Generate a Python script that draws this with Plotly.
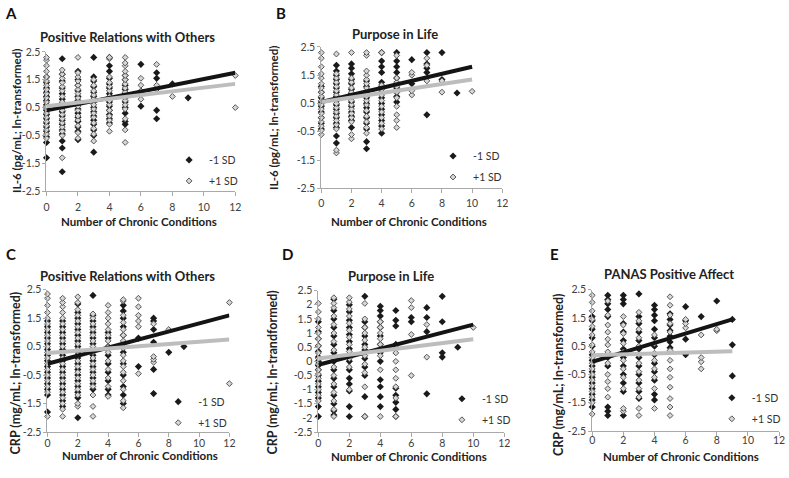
import plotly.graph_objects as go

# ---------------- data ----------------
# Each list index = number of chronic conditions (0..12); values = biomarker (ln-transformed)
A_NEG = [
    [-1.3, -0.75, -0.55, -0.35, -0.2, -0.05, 0.1, 0.25, 0.4, 0.5, 0.6, 0.75, 0.9, 1.05, 1.2, 1.4, 1.6],
    [-1.8, -0.95, -0.7, -0.45, -0.3, -0.1, 0.05, 0.2, 0.35, 0.5, 0.65, 0.8, 1.0, 1.2, 1.45, 1.7, 2.25],
    [-0.65, -0.35, -0.2, 0.0, 0.15, 0.3, 0.45, 0.6, 0.75, 0.9, 1.1, 1.3, 1.5, 1.8],
    [-1.1, -0.5, -0.3, -0.1, 0.05, 0.2, 0.35, 0.5, 0.7, 0.9, 1.05, 1.25, 1.45, 1.6, 2.3],
    [-0.05, 0.1, 0.25, 0.4, 0.55, 0.7, 0.85, 1.0, 1.2, 1.35, 1.55, 1.8, 2.0, 2.3],
    [-0.1, 0.0, 0.3, 0.5, 0.7, 0.85, 1.0, 1.15, 1.3, 1.5, 1.65],
    [0.55, 1.0, 2.05],
    [0.1, 0.4, 1.55, 1.75],
    [1.35],
    [0.85],
    [], [], [],
]
A_POS = [
    [-0.6, -0.45, -0.3, -0.15, 0.0, 0.15, 0.3, 0.45, 0.55, 0.7, 0.85, 1.0, 1.15, 1.3, 1.45, 1.6, 1.8, 2.0, 2.2, 2.3],
    [-1.3, -0.5, -0.35, -0.2, -0.05, 0.1, 0.25, 0.4, 0.55, 0.7, 0.9, 1.1, 1.25, 1.4, 1.55, 1.7, 1.85],
    [-0.6, -0.4, -0.15, 0.05, 0.2, 0.4, 0.55, 0.7, 0.85, 1.0, 1.15, 1.3, 1.45, 1.6, 1.75, 2.3],
    [-0.7, -0.45, -0.25, -0.05, 0.15, 0.3, 0.45, 0.6, 0.8, 0.95, 1.1, 1.3, 1.5],
    [-0.35, -0.1, 0.05, 0.2, 0.4, 0.6, 0.75, 0.9, 1.1, 1.25, 1.4, 1.6, 2.25, 2.3],
    [-0.75, -0.3, 0.1, 0.45, 0.6, 0.75, 0.9, 1.05, 1.2, 1.35, 1.5, 1.65, 1.8, 2.0, 2.1, 2.3],
    [0.8, 1.1, 1.3, 1.55],
    [1.15, 1.3, 2.05],
    [0.9],
    [], [], [],
    [0.5, 1.65],
]
B_NEG = [
    [-0.4, -0.2, 0.0, 0.2, 0.4, 0.55, 0.7, 0.9, 1.1],
    [-0.9, -0.65, -0.35, -0.2, 0.0, 0.15, 0.3, 0.45, 0.6, 0.75, 0.9, 1.05, 1.2, 1.35, 1.5, 1.65, 1.85],
    [-0.35, -0.1, 0.05, 0.2, 0.4, 0.55, 0.7, 0.85, 1.0, 1.2, 1.35, 1.55, 1.75, 1.9],
    [-1.1, -0.85, -0.4, -0.2, 0.0, 0.2, 0.35, 0.5, 0.7, 0.9, 1.1, 1.3],
    [-0.55, -0.3, -0.1, 0.1, 0.3, 0.5, 0.7, 0.9, 1.1, 1.25, 1.6, 1.8, 2.0, 2.3],
    [0.55, 0.75, 0.9, 1.05, 1.2, 1.4, 1.6, 1.8, 2.0, 2.3],
    [1.2, 2.05],
    [0.1, 1.6, 1.75, 1.9, 2.3],
    [1.35, 2.3],
    [0.87],
    [], [], [],
]
B_POS = [
    [-0.6, -0.45, -0.3, -0.15, 0.0, 0.15, 0.3, 0.45, 0.6, 0.75, 0.9, 1.05, 1.2, 1.4, 1.55, 1.8, 2.1, 2.3],
    [-1.25, -1.15, -0.4, -0.25, -0.1, 0.05, 0.2, 0.35, 0.5, 0.65, 0.8, 0.95, 1.1, 1.25, 1.4, 1.55, 2.25],
    [-0.75, -0.6, -0.15, 0.0, 0.15, 0.3, 0.45, 0.6, 0.75, 0.9, 1.05, 1.25, 1.4, 2.3],
    [-0.55, -0.35, -0.15, 0.05, 0.25, 0.45, 0.6, 0.75, 0.9, 1.05, 1.2, 1.35, 1.5, 1.65, 2.2, 2.3],
    [-0.4, -0.2, 0.0, 0.2, 0.4, 0.6, 0.8, 1.0, 1.15, 2.3],
    [-0.35, -0.1, 0.1, 0.4, 0.7, 0.9, 1.1, 1.25, 1.4, 2.2],
    [0.8, 0.95, 1.5, 1.6],
    [1.3, 1.85, 2.1],
    [0.9, 1.3],
    [],
    [0.93],
    [], [],
]
C_NEG = [
    [-1.8, -1.2, -1.0, -0.8, -0.6, -0.4, -0.2, 0.0, 0.2, 0.4, 0.6, 0.8, 1.0, 1.2, 1.4],
    [-1.6, -1.4, -1.2, -1.0, -0.8, -0.6, -0.4, -0.2, 0.0, 0.2, 0.4, 0.6, 0.8, 1.0, 1.2, 1.4],
    [-2.0, -1.3, -1.1, -0.9, -0.7, -0.5, -0.3, -0.1, 0.1, 0.3, 0.5, 0.7, 0.9, 1.1, 1.3, 1.5, 1.7, 2.0],
    [-1.0, -0.8, -0.6, -0.4, -0.2, 0.0, 0.2, 0.4, 0.6, 0.8, 1.0, 1.2, 1.4, 1.6, 2.3],
    [-1.2, -1.0, -0.7, -0.4, -0.1, 0.2, 0.5, 0.8, 1.0],
    [-1.5, -1.2, -0.9, -0.5, -0.1, 0.3, 0.6, 0.9, 1.2, 1.5, 1.75, 1.95],
    [-0.2, 0.8],
    [-1.15, -0.3, 0.65, 1.1, 1.4, 1.5],
    [0.3],
    [0.5],
    [], [], [],
]
C_POS = [
    [-1.95, -1.1, -0.9, -0.7, -0.5, -0.3, -0.1, 0.1, 0.3, 0.5, 0.7, 0.9, 1.1, 1.3, 1.5, 1.7, 1.95, 2.2, 2.35],
    [-1.95, -1.7, -1.5, -1.3, -1.1, -0.9, -0.7, -0.5, -0.3, -0.1, 0.1, 0.3, 0.5, 0.7, 0.9, 1.1, 1.3, 1.5, 1.7, 1.9, 2.05, 2.2],
    [-1.6, -1.5, -1.2, -1.0, -0.8, -0.6, -0.4, -0.2, 0.0, 0.2, 0.4, 0.6, 0.8, 1.0, 1.2, 1.4, 1.6, 1.8, 2.05, 2.25],
    [-1.95, -1.6, -1.2, -0.9, -0.7, -0.5, -0.3, -0.1, 0.1, 0.3, 0.5, 0.7, 0.9, 1.1, 1.3, 1.5, 1.65],
    [-1.25, -0.9, -0.6, -0.3, 0.0, 0.3, 0.5, 0.7, 0.9, 1.1, 1.3, 1.5, 1.7, 1.95],
    [-1.65, -1.4, -1.0, -0.7, -0.4, -0.2, 0.0, 0.2, 0.45, 0.7, 0.9, 1.1, 1.35, 1.6, 2.1, 2.15],
    [-0.45, 1.2, 1.4, 1.6, 1.9, 2.2],
    [-0.05, 0.05, 0.15, 1.3],
    [1.1],
    [], [], [],
    [-0.8, 2.05],
]
D_NEG = [
    [-1.95, -1.6, -1.3, -1.1, -0.9, -0.7, -0.5, -0.3, -0.15, 0.0, 0.15, 0.35, 0.55, 0.8, 1.05, 1.4],
    [-1.9, -1.75, -1.5, -1.2, -0.9, -0.6, -0.3, 0.0, 0.3, 0.6, 0.9, 1.2, 1.5, 1.8, 2.2],
    [-1.95, -1.6, -1.05, -0.8, -0.6, -0.3, 0.0, 0.2, 0.45, 0.7, 0.95, 1.2, 1.45, 1.75, 2.0],
    [-1.95, -1.25, -0.5, -0.2, 0.1, 0.4, 0.6, 0.9, 1.2, 1.4, 2.3],
    [-1.6, -1.25, -0.9, -0.65, 0.0, 0.3, 0.6, 0.9, 1.2, 1.4, 1.6, 1.8, 1.95],
    [-1.95, -1.7, -1.45, -1.2, -0.95, 0.6, 1.25, 1.45, 1.8],
    [1.4, 1.55],
    [-1.15, 1.05, 1.55, 1.9],
    [0.15, 0.3, 1.4, 2.3],
    [0.5],
    [], [], [],
]
D_POS = [
    [-1.4, -1.2, -1.0, -0.8, -0.6, -0.45, -0.3, -0.1, 0.1, 0.3, 0.55, 0.8, 1.0, 1.2, 1.5, 1.75, 2.05],
    [-1.95, -1.7, -1.4, -1.1, -0.8, -0.5, -0.2, 0.1, 0.4, 0.7, 1.0, 1.3, 1.6, 1.9, 2.05, 2.25],
    [-1.0, -0.2, 0.1, 0.35, 0.6, 0.85, 1.1, 1.35, 1.6, 1.85, 2.1, 2.25],
    [-1.95, -0.9, -0.4, -0.1, 0.2, 0.5, 0.75, 1.0, 1.2, 1.5, 2.05],
    [-1.95, -0.3, 0.2, 0.4, 0.6, 0.8, 1.0, 1.2, 1.4],
    [-1.95, -1.3, -0.9, -0.6, -0.3, 0.0, 0.3, 0.5],
    [-0.5, 0.95, 1.9, 2.15],
    [0.15, 1.3],
    [], [],
    [1.2],
    [], [],
]
E_NEG = [
    [-1.65, -1.4, -1.2, -1.0, -0.8, -0.6, -0.4, -0.2, 0.0, 0.2, 0.5, 0.8, 1.1, 1.4, 1.55],
    [-1.95, -1.8, -1.65, -0.2, 0.1, 1.55, 1.8, 2.0, 2.15, 2.3],
    [-1.95, -1.1, -0.8, -0.5, -0.2, 0.1, 0.4, 0.7, 1.0, 1.3, 2.0, 2.15, 2.3],
    [-1.35, -1.1, -0.8, -0.5, -0.2, 0.1, 0.4, 0.7, 1.0, 1.3, 1.55, 2.35],
    [-1.4, -1.2, -0.7, -0.4, -0.1, 0.2, 0.5, 0.8, 1.1, 1.4, 1.6, 1.8, 1.95],
    [0.45, 0.65, 0.85, 1.05, 1.25, 1.45, 1.65],
    [0.2, 0.75, 1.4, 1.9],
    [1.55],
    [2.1],
    [-0.55, 0.55, 1.45],
    [], [], [],
]
E_POS = [
    [-1.9, -1.5, -1.3, -1.1, -0.9, -0.7, -0.5, -0.3, -0.1, 0.1, 0.3, 0.55, 0.9, 1.2, 1.45, 1.75, 2.05, 2.3],
    [-1.3, -1.0, -0.75, -0.5, -0.1, 0.3, 0.55, 0.75, 1.0, 1.25, 1.6, 2.1],
    [-1.8, -1.7, -1.0, -0.6, -0.3, 0.0, 0.3, 0.6, 0.95, 1.25, 1.55],
    [-1.95, -1.7, -1.3, -1.0, -0.7, -0.4, -0.1, 0.2, 0.5, 0.8, 1.1, 1.4, 1.7],
    [-1.7, -1.0, -0.6, -0.3, 0.0, 0.25, 0.6, 0.9],
    [-1.95, -1.65, -1.35, -0.95, -0.6, -0.3, 0.0, 0.35, 1.0, 1.3, 1.6, 1.95, 2.25],
    [1.15, 1.3, 1.45],
    [-0.3, -0.05, 0.1, 0.9],
    [1.05, 1.1],
    [], [], [], [],
]

# Simple-slope lines: x extent and fitted values at both ends
A_LINE_X = [0, 12]; A_LINE_NEG = [0.40, 1.75]; A_LINE_POS = [0.55, 1.35]
B_LINE_X = [0, 10]; B_LINE_NEG = [0.55, 1.80]; B_LINE_POS = [0.55, 1.35]
C_LINE_X = [0, 12]; C_LINE_NEG = [-0.10, 1.60]; C_LINE_POS = [0.28, 0.75]
D_LINE_X = [0, 10]; D_LINE_NEG = [-0.12, 1.30]; D_LINE_POS = [0.10, 0.78]
E_LINE_X = [0, 9];  E_LINE_NEG = [-0.05, 1.45]; E_LINE_POS = [0.18, 0.32]

PANEL_LETTERS = ["A", "B", "C", "D", "E"]
PANEL_TITLES = ["Positive Relations with Others", "Purpose in Life",
                "Positive Relations with Others", "Purpose in Life", "PANAS Positive Affect"]
Y_TITLES = ["IL-6 (pg/mL; ln-transformed)", "IL-6 (pg/mL; ln-transformed)",
            "CRP (mg/mL; ln-transformed)", "CRP (mg/mL; ln-trandformed)",
            "CRP (mg/mL; ln-transformed)"]
X_TITLE = "Number of Chronic Conditions"
SERIES_NAMES = ["-1 SD", "+1 SD"]
X_TICKS = [0, 2, 4, 6, 8, 10, 12]
Y_TICKS_1 = [-2.5, -1.5, -0.5, 0.5, 1.5, 2.5]
Y_TICKS_1_TEXT = ["-2.5", "-1.5", "-0.5", "0.5", "1.5", "2.5"]
Y_TICKS_05 = [-2.5, -2, -1.5, -1, -0.5, 0, 0.5, 1, 1.5, 2, 2.5]
Y_TICKS_05_TEXT = ["-2.5", "-2", "-1.5", "-1", "-0.5", "0", "0.5", "1", "1.5", "2", "2.5"]

# ---------------- layout geometry (pixels) ----------------
W, H = 789, 478
FONT = "Lato"


def px(x):
    return x / W


def py(y):
    return 1 - y / H


panels = [
    dict(neg=A_NEG, pos=A_POS, lx=A_LINE_X, ln=A_LINE_NEG, lp=A_LINE_POS,
         xd=(44, 235), yd=(47, 190), yt=(Y_TICKS_1, Y_TICKS_1_TEXT),
         letter=(8, 7), title=(126, 32), ytitle=(13, 118), xtitle=(138, 221),
         leg=(168, 143), xstand=2, tsize=11.5),
    dict(neg=B_NEG, pos=B_POS, lx=B_LINE_X, ln=B_LINE_NEG, lp=B_LINE_POS,
         xd=(322, 505), yd=(42, 187), yt=(Y_TICKS_1, Y_TICKS_1_TEXT),
         letter=(281, 7), title=(397, 29), ytitle=(273, 115), xtitle=(411, 221),
         leg=(435, 139), xstand=1, tsize=11.5),
    dict(neg=C_NEG, pos=C_POS, lx=C_LINE_X, ln=C_LINE_NEG, lp=C_LINE_POS,
         xd=(45, 229), yd=(291, 437), yt=(Y_TICKS_1, Y_TICKS_1_TEXT),
         letter=(8, 254), title=(126, 277), ytitle=(13, 376), xtitle=(139, 461),
         leg=(157, 391), xstand=-3, tsize=12.5),
    dict(neg=D_NEG, pos=D_POS, lx=D_LINE_X, ln=D_LINE_NEG, lp=D_LINE_POS,
         xd=(319, 507), yd=(292, 437), yt=(Y_TICKS_05, Y_TICKS_05_TEXT),
         letter=(288, 254), title=(392, 277), ytitle=(273, 376), xtitle=(411, 462),
         leg=(444, 388), xstand=-3, tsize=12.5),
    dict(neg=E_NEG, pos=E_POS, lx=E_LINE_X, ln=E_LINE_NEG, lp=E_LINE_POS,
         xd=(596, 785), yd=(291, 436), yt=(Y_TICKS_1, Y_TICKS_1_TEXT),
         letter=(558, 254), title=(674, 275), ytitle=(562, 378), xtitle=(686, 462),
         leg=(717, 387), xstand=-5, tsize=12.5),
]

NEG_MARKER = dict(symbol="diamond", size=5.5, color="#1a1a1a", line=dict(width=0))
POS_MARKER = dict(symbol="diamond", size=4.5, color="#d6d6d6", line=dict(width=1, color="#555555"))
AXIS_COLOR = "#a9a9a9"
TICK_FONT = dict(family=FONT, size=10.5, color="#404040")

fig = go.Figure()
layout = dict(
    width=W, height=H, margin=dict(l=0, r=0, t=0, b=0),
    paper_bgcolor="white", plot_bgcolor="white",
    font=dict(family=FONT, color="#222222"),
    annotations=[],
)

for i, p in enumerate(panels):
    n = i + 1
    xa = "x" if n == 1 else f"x{n}"
    ya = "y" if n == 1 else f"y{n}"
    lg = "legend" if n == 1 else f"legend{n}"

    # scatter points
    for series, marker, name in ((p["neg"], NEG_MARKER, SERIES_NAMES[0]),
                                 (p["pos"], POS_MARKER, SERIES_NAMES[1])):
        xs, ys = [], []
        for cond, vals in enumerate(series):
            xs.extend([cond] * len(vals))
            ys.extend(vals)
        fig.add_trace(go.Scatter(x=xs, y=ys, mode="markers", marker=marker, name=name,
                                 xaxis=xa, yaxis=ya, legend=lg, legendgroup=f"{n}{name}",
                                 showlegend=True, cliponaxis=False))
    # regression lines
    fig.add_trace(go.Scatter(x=p["lx"], y=p["ln"], mode="lines",
                             line=dict(color="#141414", width=4),
                             xaxis=xa, yaxis=ya, showlegend=False, hoverinfo="skip"))
    fig.add_trace(go.Scatter(x=p["lx"], y=p["lp"], mode="lines",
                             line=dict(color="#bdbdbd", width=4),
                             xaxis=xa, yaxis=ya, showlegend=False, hoverinfo="skip"))

    xkey = "xaxis" if n == 1 else f"xaxis{n}"
    ykey = "yaxis" if n == 1 else f"yaxis{n}"
    layout[xkey] = dict(
        domain=[px(p["xd"][0]), px(p["xd"][1])], anchor=ya, range=[0, 12],
        tickvals=X_TICKS, showline=True, linecolor=AXIS_COLOR, linewidth=1,
        ticks="outside", ticklen=4, tickcolor=AXIS_COLOR, showgrid=False, zeroline=False,
        tickfont=TICK_FONT, ticklabelstandoff=p["xstand"], fixedrange=True,
    )
    layout[ykey] = dict(
        domain=[py(p["yd"][1]), py(p["yd"][0])], anchor=xa, range=[-2.5, 2.5],
        tickvals=p["yt"][0], ticktext=p["yt"][1], showline=True, linecolor=AXIS_COLOR,
        linewidth=1, ticks="outside", ticklen=3, tickcolor=AXIS_COLOR, showgrid=False,
        zeroline=False, tickfont=TICK_FONT, fixedrange=True,
    )
    layout[lg] = dict(
        x=px(p["leg"][0]), y=py(p["leg"][1]), xanchor="left", yanchor="top",
        bgcolor="rgba(0,0,0,0)", font=dict(family=FONT, size=10.5, color="#333333"),
        itemwidth=30, traceorder="grouped", tracegroupgap=2, borderwidth=0,
    )

    layout["annotations"] += [
        dict(text=f"<b>{PANEL_LETTERS[i]}</b>", x=px(p["letter"][0]), y=py(p["letter"][1]),
             xref="paper", yref="paper", showarrow=False, xanchor="center", yanchor="middle",
             font=dict(family=FONT, size=15, color="#111111")),
        dict(text=f"<b>{PANEL_TITLES[i]}</b>", x=px(p["title"][0]), y=py(p["title"][1]),
             xref="paper", yref="paper", showarrow=False, xanchor="center", yanchor="middle",
             font=dict(family=FONT, size=13, color="#222222")),
        dict(text=f"<b>{Y_TITLES[i]}</b>", x=px(p["ytitle"][0]), y=py(p["ytitle"][1]),
             xref="paper", yref="paper", showarrow=False, xanchor="center", yanchor="middle",
             textangle=-90, font=dict(family=FONT, size=p["tsize"], color="#222222")),
        dict(text=f"<b>{X_TITLE}</b>", x=px(p["xtitle"][0]), y=py(p["xtitle"][1]),
             xref="paper", yref="paper", showarrow=False, xanchor="center", yanchor="middle",
             font=dict(family=FONT, size=11.5, color="#222222")),
    ]

fig.update_layout(**layout)
fig.write_html("out.html", config={"displayModeBar": False},
               post_script="document.body.style.margin='0';")
